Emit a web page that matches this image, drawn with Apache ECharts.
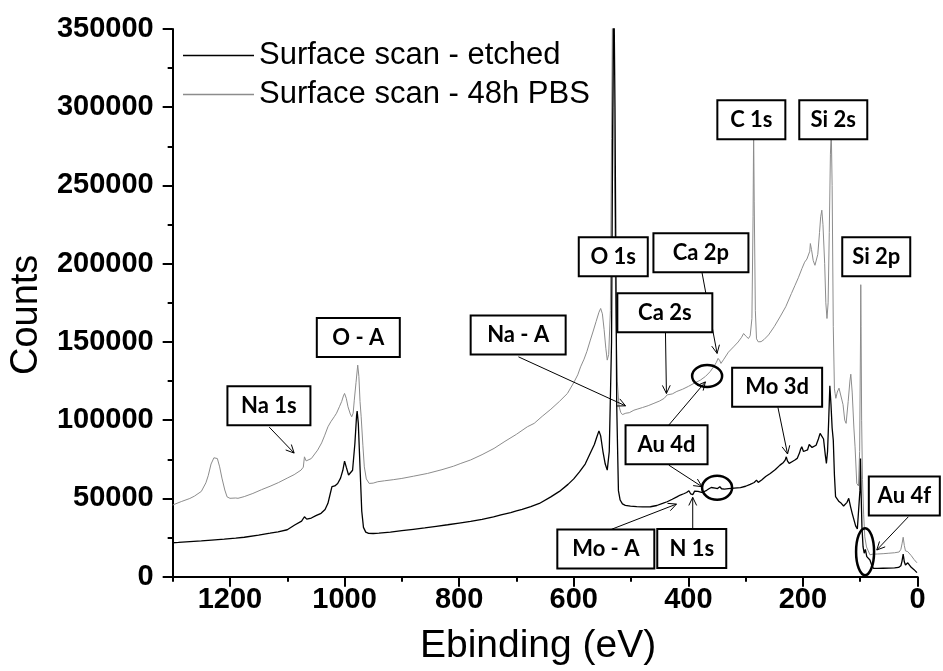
<!DOCTYPE html>
<html>
<head>
<meta charset="utf-8">
<script src="https://cdn.jsdelivr.net/npm/echarts@6/dist/echarts.min.js"></script>
<style>
  html, body { margin: 0; padding: 0; background: #fff; }
  #chart { width: 943px; height: 671px; }
</style>
</head>
<body>
<div id="chart"></div>
<script>
// XPS survey spectra: binding energy (eV) against counts.

const seriesNames = ['Surface scan - etched', 'Surface scan - 48h PBS'];

const etchedEV = [1300,1290,1270,1250,1232,1210,1190,1175,1150,1130,1116,1100,1087,1075,1070,1066,1058,1050,1041,1034,1029,1025,1022,1017,1012,1007,1003,1000,997,993,990,986,982,979,978,976,973,970,967,963,958,950,940,920,900,880,860,840,820,800,780,760,740,727,710,700,690,675,660,640,625,610,600,590,580,571,564,560,556,553,549,545,541.5,538,534,532,530,528,525,522,519,515,510,501,490,480,466,455,445,437,428,420,414,408,403,399,396,392,389,383,377,373,368,364,360,357,353,349,345,342,337,330,320,309,300,292,285,281,278,272,265,257,248,240,234,231,229,227,224,219,214,210,206,204,202,199,196,192,189,187,184,181,177,173,170,167,164,161,159,157,155,153,151,149,147,145,143,140,137,133,129,126,123,120,117,114,111,108,105,102,100.5,99.5,98.5,97,95,93,91,88.5,86,83,80,77,70,60,50,40,33,29,27,25,23,21,19,17,15,11,6,1];
const etchedCounts = [21700,21900,22400,22900,23400,24000,24600,25200,26600,27800,28700,30000,33000,35500,38300,36800,37500,39000,40500,43000,46900,53000,57500,58000,59600,63000,68000,73900,70000,65000,63900,68000,85000,103000,105800,98000,70000,42000,31500,28500,27700,27600,27800,28500,29400,30300,31200,32200,33200,34300,35400,36700,38200,39500,41000,42000,43000,44800,46800,51000,54500,59000,62500,67000,72000,79000,84500,89000,93200,90000,80000,72000,68100,80000,150000,290000,380000,300000,110000,55000,49000,46500,45600,45100,44800,44600,44700,45500,46800,47900,49500,51000,52200,53000,53800,54900,53000,52500,54700,54500,53900,54300,55200,56200,57000,55900,56600,56300,57500,56200,56000,56300,56600,56900,57800,59000,60200,61700,60300,61800,64000,66000,68500,71300,73000,74500,76600,74000,72400,73500,74600,75600,79000,81500,83000,80000,78800,81000,84500,85200,82600,82000,84000,88000,91600,92600,88000,78000,72400,80000,100000,122000,110000,95000,87300,65000,51100,50100,48000,46900,45200,44700,47500,50100,45000,40500,36500,32500,30500,29800,55000,75600,55000,32000,19000,15000,17500,12800,13500,10700,7500,5400,5300,5400,5500,5600,5900,7000,10000,14500,9500,7500,7800,8900,7800,6000,4500,2600];

const pbsEV = [1300,1285,1270,1262,1250,1242,1238,1233,1228,1225,1222,1218,1214,1209,1205,1200,1190,1186,1175,1160,1145,1130,1115,1099,1088,1076,1072,1070,1067,1064,1058,1047,1040,1035,1029,1024,1018,1014,1009,1005,1002,1000,997,994,990,987.5,985,983,980,977,975,973,971,968,965.5,962,957,950,942,930,915,900,880,855,830,810,797,780,760,739,720,700,681,669,655,640,625,611,600,593,588,582,577,571,566,561,556,553,550,547,544,541.5,539,536,534,532,530,527,524,521,518,515,512,509,506,503,500,495,488,480,470,460,450,442,439,437,434,428,420,410,400,390,379,370,362,356,351,348,346.5,345,343,338,330,321,313,307,303.5,299,295,292,289,287,286,285,283,281,278,273,268,260,250,240,230,220,214,208,201.7,197,193,190,188,187,185,182,179,177,174,171,169,167,165,162,160,158,156,154,152,150.5,149,147,145,143.8,142.5,140,137,134,130,127,124.6,121,118,116.4,114,111,109,106,103,101,99.5,99,98.5,97.5,96,94,92,89,86,83,78,70,60,50,40,32,29,27,25,23,21,19,17,15,11,6,1];
const pbsCounts = [45800,48000,50000,51500,54500,60000,64500,72000,76000,77100,75500,70200,63000,55400,51000,50100,50300,50100,51200,53200,55600,57800,60200,63200,65200,68100,70000,76600,74000,73400,75500,80900,85500,90000,95800,99000,102200,104500,108600,112000,115500,117100,114000,108600,104000,102200,104500,112800,124000,135200,128000,112000,102200,84000,70200,62500,59600,59800,60700,61300,62000,62800,64200,66000,68400,70600,72400,74600,78000,82000,86500,91000,95800,98000,102500,107000,112000,117100,124000,129000,134100,139000,144000,151200,157000,163000,169000,171400,168000,158000,146000,138400,142000,170000,280000,380000,300000,180000,125000,109000,105000,103600,103200,104500,103800,104800,105800,106400,107200,108100,109300,110800,112300,114000,114900,116200,115200,116800,118400,119800,121600,123600,125600,128000,131000,134100,137000,139500,140500,138000,136300,139000,143500,146900,150000,153000,155400,153500,152200,154000,165000,230000,285000,240000,170000,152000,150100,150200,151500,154500,159800,166000,172500,181000,186000,191000,196900,201000,203000,202500,208000,212900,209000,202000,199000,198000,206000,220000,230000,234200,225000,200000,175000,165000,175000,220000,270000,285000,250000,160000,120000,117100,114000,118000,120500,121300,110000,100000,98000,112000,125000,129400,118000,95000,83000,59600,58000,80000,150000,186600,160000,100000,62000,40000,25500,19000,16500,14000,14400,14500,14700,15000,15300,15800,17500,21000,25200,20000,16500,15300,16000,15500,13500,11000,8900];

const xLabelValues = [0, 200, 400, 600, 800, 1000, 1200];
const xMinorValues = [100, 300, 500, 700, 900, 1100, 1300];

// Peak labels, placed at their box centres (eV, counts)
const peakLabels  = ['Na 1s', 'O - A', 'Na - A', 'O 1s', 'Ca 2p', 'Ca 2s', 'C 1s', 'Si 2s', 'Si 2p', 'Mo 3d', 'Au 4d', 'Mo - A', 'N 1s', 'Au 4f'];
const peakLabelAt = [[1132,109300],[976,152800],[697,154400],[531,204500],[378,207000],[441,168700],[290,292000],[147,292000],[72,204500],[245,121100],[438,84400],[544,17700],[394,18000],[23,51500]];

// Pointer arrows: tail and tip (eV, counts)
const arrowFrom = [[1131.5,95600],[696.5,140500],[376,194100],[439.9,156300],[243.6,108200],[434.1,96900],[434.1,71300],[534,30300],[392.3,30900],[16,38300]];
const arrowTo   = [[1088,79000],[509.6,109200],[349.8,142700],[438.2,117100],[226.8,78400],[370.2,124500],[376,57500],[420.7,46400],[392.3,50700],[71.1,17050]];

// Rings around the Au features (eV, counts)
const ringAt = [[367.2,128200],[349.8,56800],[91.5,16000]];

// ---- styling / layout ----
const boxWidth  = [83, 83, 95, 69, 95, 95, 68, 68, 68, 90, 82, 97, 69, 71];
const boxHeight = 39;
const ringRadius = [[15, 11], [15, 12], [9, 23.5]];
const sansFont = '"Liberation Sans", Arial, sans-serif';
const labelFont = 'bold 22px Lato, "Open Sans", sans-serif';

const etchedData = etchedEV.map((e, i) => [e, etchedCounts[i]]);
const pbsData = pbsEV.map((e, i) => [e, pbsCounts[i]]);

const chart = echarts.init(document.getElementById('chart'), null, { renderer: 'canvas' });

chart.setOption({
  animation: false,
  backgroundColor: '#fff',
  grid: { left: 172, right: 25.5, top: 29, bottom: 94.3, containLabel: false },
  legend: {
    orient: 'vertical',
    left: 178,
    top: 35,
    icon: 'rect',
    itemWidth: 71,
    itemHeight: 1.5,
    itemGap: 8,
    selectedMode: false,
    data: seriesNames,
    textStyle: { fontFamily: sansFont, fontSize: 31, color: '#000', lineHeight: 31 }
  },
  xAxis: [
    {
      type: 'value', min: 0, max: 1300, interval: 200, inverse: true, position: 'bottom',
      axisLine: { show: true, onZero: false, lineStyle: { color: '#000', width: 2 } },
      axisTick: { show: true, length: 10, customValues: xLabelValues, lineStyle: { color: '#000', width: 2 } },
      axisLabel: {
        customValues: xLabelValues,
        formatter: v => (xLabelValues.indexOf(v) >= 0 ? String(v) : ''),
        margin: 9, fontFamily: sansFont, fontSize: 29, fontWeight: 'bold', color: '#000'
      },
      splitLine: { show: false },
      name: 'Ebinding (eV)', nameLocation: 'middle', nameGap: 50,
      nameTextStyle: { fontFamily: sansFont, fontSize: 39, color: '#000', padding: [0, 14, 0, 0] }
    },
    {
      type: 'value', min: 0, max: 1300, interval: 100, inverse: true, position: 'bottom',
      axisLine: { show: false, onZero: false },
      axisTick: { show: true, length: 5, customValues: xMinorValues, lineStyle: { color: '#000', width: 2 } },
      axisLabel: { show: false },
      splitLine: { show: false }
    }
  ],
  yAxis: {
    type: 'value', min: 0, max: 350000, interval: 50000, position: 'left',
    axisLine: { show: true, onZero: false, lineStyle: { color: '#000', width: 2 } },
    axisTick: { show: true, length: 10, lineStyle: { color: '#000', width: 2 } },
    minorTick: { show: true, splitNumber: 2, length: 5, lineStyle: { color: '#000', width: 2 } },
    splitLine: { show: false },
    minorSplitLine: { show: false },
    axisLabel: { margin: 19, fontFamily: sansFont, fontSize: 29, fontWeight: 'bold', color: '#000', formatter: v => String(v) },
    name: 'Counts', nameLocation: 'middle', nameGap: 120, nameRotate: 90,
    nameTextStyle: { fontFamily: sansFont, fontSize: 38, color: '#000', padding: [0, 24, 0, 0] }
  },
  series: [
    {
      name: seriesNames[1], type: 'line', xAxisIndex: 0, yAxisIndex: 0,
      data: pbsData, showSymbol: false, symbol: 'none', clip: true, silent: true,
      color: '#8c8c8c', lineStyle: { color: '#8c8c8c', width: 1 }
    },
    {
      name: seriesNames[0], type: 'line', xAxisIndex: 0, yAxisIndex: 0,
      data: etchedData, showSymbol: false, symbol: 'none', clip: true, silent: true,
      color: '#000', lineStyle: { color: '#000', width: 1.3 }
    }
  ]
});

// Annotation layer: boxes, arrows and rings, positioned through the axes
function toPx(p) { return chart.convertToPixel({ xAxisIndex: 0, yAxisIndex: 0 }, p); }

const elements = [];
const headLen = 9, spread = 0.45;

arrowFrom.forEach((from, i) => {
  const a = toPx(from), b = toPx(arrowTo[i]);
  const dx = b[0] - a[0], dy = b[1] - a[1];
  const len = Math.hypot(dx, dy) || 1;
  const ux = dx / len, uy = dy / len;
  const c = Math.cos(spread), s = Math.sin(spread);
  const p1 = [b[0] + headLen * (-ux * c + uy * s), b[1] + headLen * (-uy * c - ux * s)];
  const p2 = [b[0] + headLen * (-ux * c - uy * s), b[1] + headLen * (-uy * c + ux * s)];
  elements.push({ type: 'line', z: 100, shape: { x1: a[0], y1: a[1], x2: b[0], y2: b[1] }, style: { stroke: '#000', lineWidth: 1 } });
  elements.push({ type: 'polyline', z: 100, shape: { points: [p1, b, p2] }, style: { stroke: '#000', lineWidth: 1, fill: null } });
});

ringAt.forEach((c, i) => {
  const p = toPx(c);
  elements.push({ type: 'ellipse', z: 100, shape: { cx: p[0], cy: p[1], rx: ringRadius[i][0], ry: ringRadius[i][1] }, style: { stroke: '#000', lineWidth: 2.5, fill: null } });
});

peakLabels.forEach((label, i) => {
  const p = toPx(peakLabelAt[i]);
  const w = boxWidth[i], h = boxHeight;
  elements.push({ type: 'rect', z: 110, shape: { x: p[0] - w / 2, y: p[1] - h / 2, width: w, height: h }, style: { fill: '#fff', stroke: '#000', lineWidth: 2 } });
  elements.push({ type: 'text', z: 111, x: p[0], y: p[1], style: { text: label, font: labelFont, fill: '#000', align: 'center', verticalAlign: 'middle', textAlign: 'center', textVerticalAlign: 'middle' } });
});

chart.setOption({ graphic: { elements: elements } });
</script>
</body>
</html>
